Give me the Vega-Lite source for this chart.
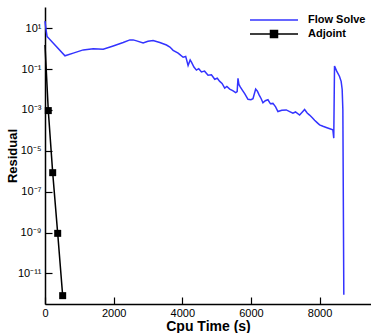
{
  "$schema": "https://vega.github.io/schema/vega-lite/v6.json",
  "width": 326,
  "height": 297,
  "autosize": {"type": "none"},
  "padding": {"left": 45, "top": 7, "right": 0, "bottom": 29},
  "background": "white",
  "config": {
    "view": {"stroke": null},
    "font": "Liberation Sans",
    "axis": {
      "grid": false,
      "domainColor": "black",
      "domainWidth": 1.5,
      "tickColor": "black",
      "tickWidth": 1.2,
      "labelColor": "black",
      "titleColor": "black",
      "labelFont": "Liberation Sans",
      "titleFont": "Liberation Sans"
    }
  },
  "data": {
    "values": [
      {"series": "Flow Solve", "cpu": 0, "residual": 22.39},
      {"series": "Flow Solve", "cpu": 25, "residual": 10},
      {"series": "Flow Solve", "cpu": 60, "residual": 3.98},
      {"series": "Flow Solve", "cpu": 582, "residual": 0.447},
      {"series": "Flow Solve", "cpu": 823, "residual": 0.603},
      {"series": "Flow Solve", "cpu": 1114, "residual": 0.871},
      {"series": "Flow Solve", "cpu": 1405, "residual": 1.0},
      {"series": "Flow Solve", "cpu": 1696, "residual": 0.933},
      {"series": "Flow Solve", "cpu": 1987, "residual": 1.349},
      {"series": "Flow Solve", "cpu": 2278, "residual": 1.995},
      {"series": "Flow Solve", "cpu": 2473, "residual": 2.692},
      {"series": "Flow Solve", "cpu": 2570, "residual": 2.692},
      {"series": "Flow Solve", "cpu": 2670, "residual": 2.399},
      {"series": "Flow Solve", "cpu": 2860, "residual": 1.905},
      {"series": "Flow Solve", "cpu": 3000, "residual": 2.291},
      {"series": "Flow Solve", "cpu": 3150, "residual": 2.512},
      {"series": "Flow Solve", "cpu": 3345, "residual": 1.995},
      {"series": "Flow Solve", "cpu": 3540, "residual": 1.514},
      {"series": "Flow Solve", "cpu": 3640, "residual": 1.202},
      {"series": "Flow Solve", "cpu": 3734, "residual": 0.832},
      {"series": "Flow Solve", "cpu": 3880, "residual": 0.603},
      {"series": "Flow Solve", "cpu": 3950, "residual": 0.479},
      {"series": "Flow Solve", "cpu": 4025, "residual": 0.38},
      {"series": "Flow Solve", "cpu": 4100, "residual": 0.417},
      {"series": "Flow Solve", "cpu": 4170, "residual": 0.151},
      {"series": "Flow Solve", "cpu": 4230, "residual": 0.282},
      {"series": "Flow Solve", "cpu": 4268, "residual": 0.219},
      {"series": "Flow Solve", "cpu": 4340, "residual": 0.126},
      {"series": "Flow Solve", "cpu": 4413, "residual": 0.0891},
      {"series": "Flow Solve", "cpu": 4480, "residual": 0.105},
      {"series": "Flow Solve", "cpu": 4559, "residual": 0.0724},
      {"series": "Flow Solve", "cpu": 4650, "residual": 0.0794},
      {"series": "Flow Solve", "cpu": 4752, "residual": 0.0501},
      {"series": "Flow Solve", "cpu": 4850, "residual": 0.0525},
      {"series": "Flow Solve", "cpu": 4946, "residual": 0.0316},
      {"series": "Flow Solve", "cpu": 5020, "residual": 0.0355},
      {"series": "Flow Solve", "cpu": 5092, "residual": 0.0251},
      {"series": "Flow Solve", "cpu": 5160, "residual": 0.02},
      {"series": "Flow Solve", "cpu": 5237, "residual": 0.01175},
      {"series": "Flow Solve", "cpu": 5300, "residual": 0.01413},
      {"series": "Flow Solve", "cpu": 5383, "residual": 0.01047},
      {"series": "Flow Solve", "cpu": 5470, "residual": 0.00891},
      {"series": "Flow Solve", "cpu": 5557, "residual": 0.00708},
      {"series": "Flow Solve", "cpu": 5600, "residual": 0.00794},
      {"series": "Flow Solve", "cpu": 5624, "residual": 0.0355},
      {"series": "Flow Solve", "cpu": 5650, "residual": 0.0178},
      {"series": "Flow Solve", "cpu": 5694, "residual": 0.0132},
      {"series": "Flow Solve", "cpu": 5760, "residual": 0.00891},
      {"series": "Flow Solve", "cpu": 5819, "residual": 0.00631},
      {"series": "Flow Solve", "cpu": 5915, "residual": 0.00331},
      {"series": "Flow Solve", "cpu": 6000, "residual": 0.00316},
      {"series": "Flow Solve", "cpu": 6061, "residual": 0.00355},
      {"series": "Flow Solve", "cpu": 6139, "residual": 0.01047},
      {"series": "Flow Solve", "cpu": 6190, "residual": 0.00832},
      {"series": "Flow Solve", "cpu": 6235, "residual": 0.00562},
      {"series": "Flow Solve", "cpu": 6300, "residual": 0.00355},
      {"series": "Flow Solve", "cpu": 6351, "residual": 0.00224},
      {"series": "Flow Solve", "cpu": 6420, "residual": 0.00282},
      {"series": "Flow Solve", "cpu": 6497, "residual": 0.00316},
      {"series": "Flow Solve", "cpu": 6570, "residual": 0.002},
      {"series": "Flow Solve", "cpu": 6642, "residual": 0.00209},
      {"series": "Flow Solve", "cpu": 6720, "residual": 0.00141},
      {"series": "Flow Solve", "cpu": 6788, "residual": 0.000832},
      {"series": "Flow Solve", "cpu": 6900, "residual": 0.000955},
      {"series": "Flow Solve", "cpu": 7032, "residual": 0.001},
      {"series": "Flow Solve", "cpu": 7130, "residual": 0.000832},
      {"series": "Flow Solve", "cpu": 7224, "residual": 0.000692},
      {"series": "Flow Solve", "cpu": 7300, "residual": 0.000794},
      {"series": "Flow Solve", "cpu": 7419, "residual": 0.000562},
      {"series": "Flow Solve", "cpu": 7500, "residual": 0.000794},
      {"series": "Flow Solve", "cpu": 7565, "residual": 0.00105},
      {"series": "Flow Solve", "cpu": 7640, "residual": 0.000708},
      {"series": "Flow Solve", "cpu": 7710, "residual": 0.000562},
      {"series": "Flow Solve", "cpu": 7790, "residual": 0.000417},
      {"series": "Flow Solve", "cpu": 7856, "residual": 0.000316},
      {"series": "Flow Solve", "cpu": 7930, "residual": 0.00024},
      {"series": "Flow Solve", "cpu": 8001, "residual": 0.000186},
      {"series": "Flow Solve", "cpu": 8100, "residual": 0.000158},
      {"series": "Flow Solve", "cpu": 8196, "residual": 0.000138},
      {"series": "Flow Solve", "cpu": 8300, "residual": 0.00012},
      {"series": "Flow Solve", "cpu": 8388, "residual": 0.000107},
      {"series": "Flow Solve", "cpu": 8415, "residual": 0.0000417},
      {"series": "Flow Solve", "cpu": 8437, "residual": 0.141},
      {"series": "Flow Solve", "cpu": 8500, "residual": 0.0794},
      {"series": "Flow Solve", "cpu": 8580, "residual": 0.0447},
      {"series": "Flow Solve", "cpu": 8630, "residual": 0.0251},
      {"series": "Flow Solve", "cpu": 8660, "residual": 0.01},
      {"series": "Flow Solve", "cpu": 8680, "residual": 0.001},
      {"series": "Flow Solve", "cpu": 8708, "residual": 8.9e-13},
      {"series": "Adjoint", "cpu": 0, "residual": 1.5},
      {"series": "Adjoint", "cpu": 96, "residual": 9.3e-4},
      {"series": "Adjoint", "cpu": 224, "residual": 8.5e-7},
      {"series": "Adjoint", "cpu": 370, "residual": 9.1e-10},
      {"series": "Adjoint", "cpu": 515, "residual": 8.1e-13}
    ]
  },
  "layer": [
    {
      "mark": {"type": "line", "strokeWidth": 1.5},
      "encoding": {
        "x": {
          "field": "cpu",
          "type": "quantitative",
          "scale": {"domain": [0, 9500], "nice": false, "zero": false},
          "axis": {
            "values": [0, 500, 1000, 1500, 2000, 2500, 3000, 3500, 4000, 4500, 5000, 5500, 6000, 6500, 7000, 7500, 8000, 8500, 9000, 9500],
            "format": "d",
            "labelExpr": "datum.value % 2000 === 0 ? datum.label : ''",
            "tickSize": {"condition": {"test": "datum.value % 2000 === 0", "value": -7}, "value": -4},
            "labelPadding": 10,
            "labelFontSize": 11,
            "labelOverlap": false,
            "labelFlush": false,
            "title": "Cpu Time (s)",
            "titleFontSize": 14,
            "titleFontWeight": "bold",
            "titlePadding": 1
          }
        },
        "y": {
          "field": "residual",
          "type": "quantitative",
          "scale": {"type": "log", "domain": [3.162e-13, 109.6], "nice": false},
          "axis": {
            "values": [10, 0.1, 0.001, 0.00001, 0.0000001, 0.000000001, 0.00000000001],
            "labelExpr": "datum.value >= 5 ? '10¹' : datum.value >= 0.05 ? '10⁻¹' : datum.value >= 0.0005 ? '10⁻³' : datum.value >= 0.000005 ? '10⁻⁵' : datum.value >= 0.00000005 ? '10⁻⁷' : datum.value >= 0.0000000005 ? '10⁻⁹' : '10⁻¹¹'",
            "tickSize": -7,
            "labelPadding": 11,
            "labelFontSize": 11,
            "labelOverlap": false,
            "title": "Residual",
            "titleFontSize": 13,
            "titleFontWeight": "bold",
            "titlePadding": -2
          }
        },
        "color": {
          "field": "series",
          "type": "nominal",
          "scale": {"domain": ["Flow Solve", "Adjoint"], "range": ["#3333ff", "black"]},
          "legend": {
            "orient": "none",
            "legendX": 223,
            "legendY": 7,
            "title": null,
            "padding": 0,
            "labelFontSize": 11,
            "labelFontWeight": "bold",
            "labelColor": "black",
            "symbolSize": 100,
            "symbolStrokeWidth": 1.5,
            "labelOffset": 28,
            "rowPadding": 2,
            "encode": {
              "symbols": {
                "update": {
                  "shape": {"signal": "datum.value === 'Adjoint' ? 'M-4.8,0H4.8M-0.7,-0.7H0.7V0.7H-0.7Z' : 'M-4.8,0H4.8'"},
                  "fill": {"signal": "datum.value === 'Adjoint' ? 'black' : 'transparent'"}
                }
              }
            }
          }
        },
        "order": {"field": "cpu"}
      }
    },
    {
      "transform": [{"filter": "datum.series === 'Adjoint' && datum.cpu > 0"}],
      "mark": {"type": "square", "size": 49, "filled": true, "opacity": 1, "color": "black"},
      "encoding": {
        "x": {"field": "cpu", "type": "quantitative"},
        "y": {"field": "residual", "type": "quantitative"}
      }
    }
  ]
}
